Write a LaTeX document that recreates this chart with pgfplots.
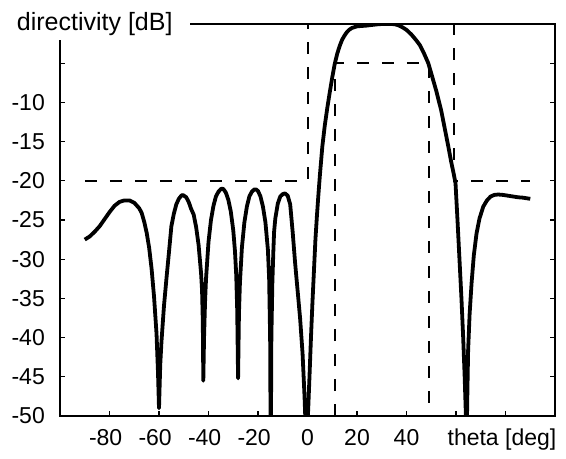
\documentclass[border=0pt]{standalone}
\usepackage{fontspec}
\setmainfont{Liberation Sans}
\usepackage{pgfplots}
\pgfplotsset{compat=1.18}

\begin{document}
\begin{tikzpicture}
\begin{axis}[
  scale only axis, width=495pt, height=392pt,
  xmin=-100, xmax=100, ymin=-50, ymax=0,
  xtick={-80,-60,-40,-20,0,20,40,60,80},
  xticklabels={{\llap{-}80},{\llap{-}60},{\llap{-}40},{\llap{-}20},0,20,40,{},{}},
  ytick={-50,-45,-40,-35,-30,-25,-20,-15,-10,-5},
  yticklabels={-50,-45,-40,-35,-30,-25,-20,-15,-10,{}},
  xtick pos=bottom, ytick pos=both,
  tick align=inside,
  major tick length=5pt,
  tick style={line width=1.3pt, black},
  axis line style={line width=2pt},
  tick label style={font=\fontsize{23}{26}\selectfont},
  xticklabel style={anchor=base, yshift=-29pt},
  yticklabel style={anchor=east, inner sep=0pt, xshift=-15pt},
]
% mask lines
\addplot[black, line width=2pt, dash pattern=on 12pt off 13pt] coordinates {
(-90,-20) (0,-20) (0,0) (59,0) (59,-20) (90,-20)};
\addplot[black, line width=2pt, dash pattern=on 12pt off 13pt] coordinates {
(11,-50) (11,-5) (49,-5) (49,-50)};
% directivity pattern
\addplot[black, line width=3.8pt, line join=round] coordinates {
(-90,-27.5) (-88,-27.1) (-86,-26.5) (-84,-25.8) (-82,-24.9) (-80,-24.0)
(-78,-23.2) (-76,-22.7) (-74,-22.5) (-72,-22.5) (-70,-22.8) (-68,-23.5)
(-67,-24.1) (-66,-25.2) (-65,-26.6) (-64,-28.5) (-63,-31.2) (-62,-34.8)
(-61,-39.5) (-60.4,-44.5) (-60,-49.0) (-59.5,-43.5) (-59,-40.5) (-58,-36)
(-57,-32.5) (-56,-29.2) (-55,-25.8) (-54,-24.2) (-53,-23.0) (-52,-22.3)
(-51,-21.9) (-50.4,-21.8) (-49,-22.1) (-48,-22.7) (-47,-23.6) (-46,-24.3)
(-45,-25.9) (-44,-28.2) (-43,-31.8) (-42.6,-34) (-42.3,-38) (-42.1,-45.5)
(-41.8,-40) (-41.4,-35.5) (-41,-32.5) (-40,-27.8) (-39,-25) (-38,-23.2)
(-37,-22.0) (-36,-21.4) (-35,-21.05) (-34.5,-21.0) (-34,-21.05) (-33,-21.5)
(-32,-22.4) (-31,-23.9) (-30,-26.3) (-29.3,-29) (-28.8,-32) (-28.4,-36.5)
(-28.05,-45.2) (-27.7,-37) (-27.3,-33) (-26.5,-28.5) (-25.5,-25.3) (-24.5,-23.3)
(-23.5,-22.0) (-22.5,-21.4) (-21.5,-21.1) (-20.8,-21.1) (-20,-21.3) (-19,-22)
(-18,-23.3) (-17,-25.3) (-16,-28.8) (-15.5,-32.5) (-15.1,-40) (-14.85,-56)
(-14.6,-40) (-14.2,-33) (-13.8,-29) (-13.5,-26.5) (-13,-24.8) (-12,-22.9)
(-11,-22.0) (-10,-21.7) (-9.1,-21.6) (-8,-21.9) (-7,-23.0) (-6,-26.5)
(-5,-30.5) (-4,-34) (-3,-37.5) (-2,-42) (-1.2,-47.5) (-0.8,-51)
(-0.4,-56) (0,-51) (0.3,-49) (0.8,-45) (1.4,-40) (2,-35.5)
(2.6,-31.5) (3.2,-27.5) (3.8,-24.5) (4.4,-21.8) (5,-19.3) (6,-15.6)
(7,-12.9) (8,-10.7) (9,-8.7) (10,-6.8) (11,-5.1) (12,-3.8)
(13,-2.8) (14,-2.0) (15,-1.45) (16,-1.0) (17,-0.7) (18,-0.5)
(20,-0.3) (22,-0.25) (24,-0.2) (26,-0.12) (28,-0.05) (30,0)
(32,0) (34,0) (35.5,-0.05) (37,-0.2) (38.5,-0.45) (40,-0.75)
(42,-1.35) (44,-2.1) (45.4,-2.7) (47,-3.7) (48.8,-5.0) (50,-6.3)
(52,-8.5) (54,-11.0) (55,-12.6) (56,-14.2) (57,-15.8) (58,-17.5)
(59,-19.0) (59.8,-20.3) (60.6,-25) (61.4,-30) (62.2,-35) (62.9,-40)
(63.5,-45) (64.0,-50) (64.3,-53) (64.6,-47) (64.9,-41.6) (65.5,-37)
(66.3,-33) (67.2,-29.5) (68.3,-26.7) (69.5,-24.8) (71,-23.3) (72.5,-22.5)
(74,-22.0) (75.5,-21.8) (77,-21.75) (79,-21.8) (81,-21.9) (83,-22.0)
(85,-22.1) (87,-22.15) (89,-22.25) (90,-22.3)};
\end{axis}
% label over the upper left corner of the frame
\fill[white] ([shift={(-62pt,10pt)}]current axis.north west) rectangle ([shift={(130pt,-16pt)}]current axis.north west);
\node[anchor=base west, inner sep=0pt, font=\fontsize{25}{30}\selectfont]
  at ([shift={(-43.3pt,-6.5pt)}]current axis.north west) {directivity [dB]};
\node[anchor=base east, inner sep=0pt, font=\fontsize{23}{26}\selectfont]
  at ([shift={(1.5pt,-29pt)}]current axis.south east) {theta [deg]};
\pgfresetboundingbox
\path[use as bounding box] ([shift={(-60pt,-42pt)}]current axis.south west)
  rectangle ([shift={(11pt,24pt)}]current axis.north east);
\end{tikzpicture}
\end{document}
